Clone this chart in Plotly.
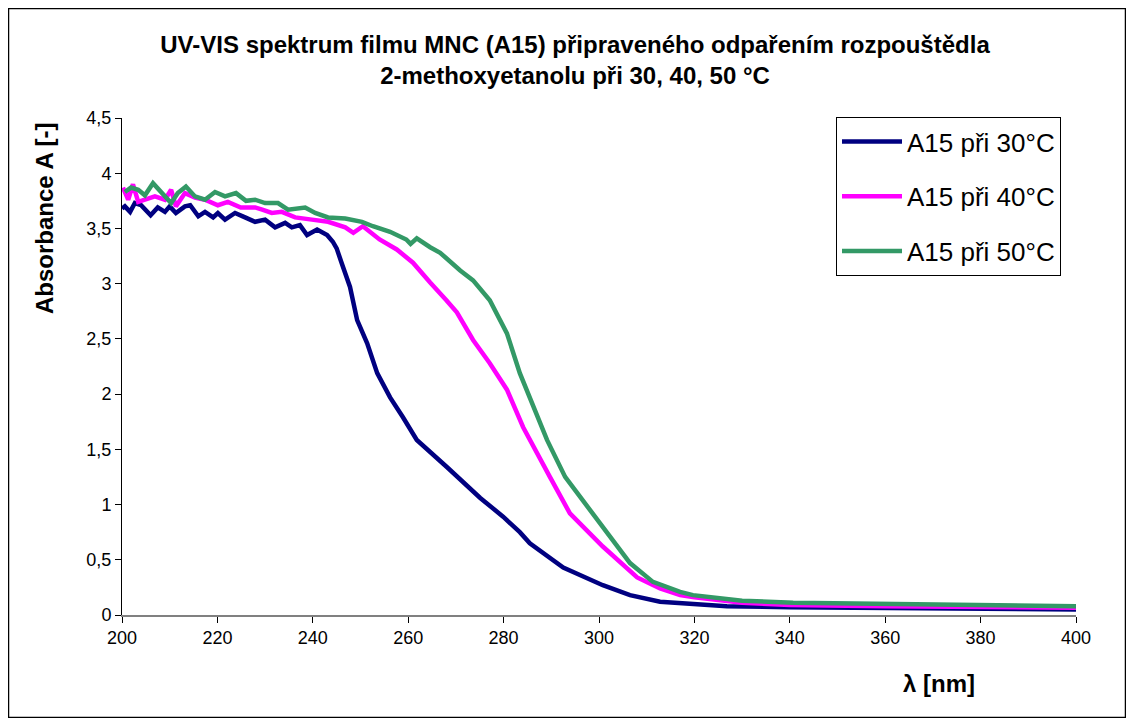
import plotly.graph_objects as go

# ---- data ----
wl_30 = [200.0, 200.6, 201.7, 202.7, 204.0, 206.0, 207.5, 209.0, 210.0, 211.3, 213.2, 214.3,
         216.0, 217.4, 219.1, 220.1, 221.6, 223.7, 225.8, 227.9, 230.0, 232.1, 234.2, 235.6,
         237.3, 238.8, 240.9, 243.0, 244.2, 245.0, 246.1, 247.8, 249.3, 251.4, 253.5, 256.2,
         258.9, 261.8, 268.1, 275.1, 279.9, 283.4, 285.5, 292.5, 300.8, 304.4, 306.5, 312.8,
         316.4, 326.8, 340.0, 360.0, 380.0, 400.0]
abs_30 = [3.68, 3.70, 3.65, 3.73, 3.71, 3.62, 3.69, 3.65, 3.70, 3.64, 3.70, 3.71,
          3.61, 3.65, 3.60, 3.64, 3.58, 3.64, 3.60, 3.56, 3.58, 3.51, 3.55, 3.51,
          3.53, 3.44, 3.49, 3.44, 3.38, 3.32, 3.18, 2.97, 2.67, 2.46, 2.19, 1.97,
          1.79, 1.585, 1.34, 1.06, 0.89, 0.75, 0.65, 0.43, 0.27, 0.21, 0.18, 0.12,
          0.11, 0.08, 0.07, 0.06, 0.055, 0.05]

wl_40 = [200.2, 201.3, 202.3, 203.4, 204.8, 206.9, 209.0, 210.3, 211.3, 213.2, 215.3, 217.4,
         220.1, 222.2, 224.9, 227.9, 229.4, 231.4, 233.5, 236.3, 239.8, 243.2, 246.8, 248.5,
         250.5, 252.6, 254.0, 257.6, 261.0, 264.6, 266.7, 268.0, 270.2, 273.6, 277.1, 280.7,
         284.1, 285.5, 289.7, 293.9, 300.8, 308.0, 312.8, 317.0, 320.0, 330.0, 340.0, 360.0,
         380.0, 400.0]
abs_40 = [3.87, 3.76, 3.90, 3.74, 3.76, 3.79, 3.76, 3.85, 3.70, 3.82, 3.78, 3.76,
          3.71, 3.74, 3.69, 3.69, 3.67, 3.64, 3.65, 3.60, 3.58, 3.56, 3.51, 3.46,
          3.52, 3.44, 3.40, 3.31, 3.19, 3.01, 2.92, 2.85, 2.74, 2.49, 2.28, 2.04,
          1.70, 1.585, 1.25, 0.92, 0.62, 0.34, 0.24, 0.18, 0.16, 0.11, 0.09, 0.08,
          0.07, 0.065]

wl_50 = [200.6, 201.9, 203.4, 204.8, 206.5, 208.2, 210.3, 211.7, 213.4, 215.3, 217.4, 219.5,
         221.6, 223.9, 226.0, 227.9, 230.0, 232.7, 234.8, 238.4, 240.5, 243.2, 246.8, 250.3,
         252.6, 256.2, 259.6, 260.5, 261.8, 264.6, 266.7, 270.9, 273.6, 277.1, 280.7, 283.4,
         286.2, 289.1, 292.9, 300.8, 306.5, 311.3, 317.0, 319.7, 330.0, 340.7, 361.6, 380.0,
         400.0]
abs_50 = [3.83, 3.87, 3.85, 3.80, 3.91, 3.83, 3.73, 3.82, 3.88, 3.79, 3.76, 3.83,
          3.79, 3.82, 3.75, 3.76, 3.73, 3.73, 3.67, 3.69, 3.64, 3.60, 3.59, 3.56,
          3.52, 3.47, 3.40, 3.36, 3.41, 3.33, 3.28, 3.12, 3.03, 2.85, 2.55, 2.19,
          1.88, 1.585, 1.25, 0.80, 0.47, 0.30, 0.21, 0.18, 0.13, 0.11, 0.10, 0.09,
          0.08]

series_names = ["A15 při 30°C", "A15 při 40°C", "A15 při 50°C"]
series_colors = ["#000080", "#FF00FF", "#339966"]

title_text = ("UV-VIS spektrum filmu MNC (A15) připraveného odpařením rozpouštědla"
              "<br>2-methoxyetanolu při 30, 40, 50 °C")
y_title = "Absorbance A [-]"
x_title = "λ [nm]"

FONT = "Liberation Sans, Arial, sans-serif"

fig = go.Figure()
for i, (xs, ys) in enumerate([(wl_30, abs_30), (wl_40, abs_40), (wl_50, abs_50)]):
    fig.add_trace(go.Scatter(
        x=xs, y=ys, mode="lines", name=series_names[i],
        legendgroup=f"g{i}",
        line=dict(color=series_colors[i], width=4.5),
    ))

# page offset (body margin of the html page)
OFF = 8
W, H = 1118, 710
# plot area in page pixels
L, R, T, B = 122, 1076, 118, 615
pw, ph = R - L, B - T


def px(xp):
    return (xp - L) / pw


def py(yp):
    return (B - yp) / ph


fig.update_layout(
    width=W, height=H,
    margin=dict(l=L - OFF, r=W - (R - OFF), t=T - OFF, b=H - (B - OFF), pad=0),
    paper_bgcolor="white", plot_bgcolor="white",
    separators=",.",
    font=dict(family=FONT, color="black", size=18),
    title=dict(text=title_text, x=(575 - OFF) / W, xref="container", xanchor="center",
               y=1 - (53 - OFF) / H, yref="container", yanchor="middle",
               font=dict(family=FONT, size=24, color="black", weight="bold")),
    showlegend=True,
    legend=dict(x=px(836), y=py(117), xanchor="left", yanchor="top",
                bgcolor="white", bordercolor="black", borderwidth=1,
                font=dict(family=FONT, size=26, color="black"),
                tracegroupgap=18, itemwidth=60),
    xaxis=dict(range=[200, 400], dtick=20, tick0=200, showgrid=False, zeroline=False,
               showline=True, linecolor="#808080", linewidth=1.5,
               ticks="outside", ticklen=6, tickcolor="black",
               tickfont=dict(family=FONT, size=18, color="black")),
    yaxis=dict(range=[0, 4.5], dtick=0.5, tick0=0, showgrid=False, zeroline=False,
               showline=True, linecolor="black", linewidth=1,
               ticks="outside", ticklen=6, tickcolor="black",
               tickfont=dict(family=FONT, size=18, color="black")),
)

fig.add_annotation(text=y_title, textangle=-90, x=px(44), y=py(218),
                   xref="paper", yref="paper", xanchor="center", yanchor="middle",
                   showarrow=False,
                   font=dict(family=FONT, size=24, color="black", weight="bold"))
fig.add_annotation(text=x_title, x=px(939), y=py(683),
                   xref="paper", yref="paper", xanchor="center", yanchor="middle",
                   showarrow=False,
                   font=dict(family=FONT, size=24, color="black", weight="bold"))

# outer chart border
fig.add_shape(type="rect", xref="paper", yref="paper",
              x0=px(8.5), x1=px(1125.5), y0=py(717.5), y1=py(8.5),
              line=dict(color="black", width=1.5), layer="below")

fig.write_html("out.html")
